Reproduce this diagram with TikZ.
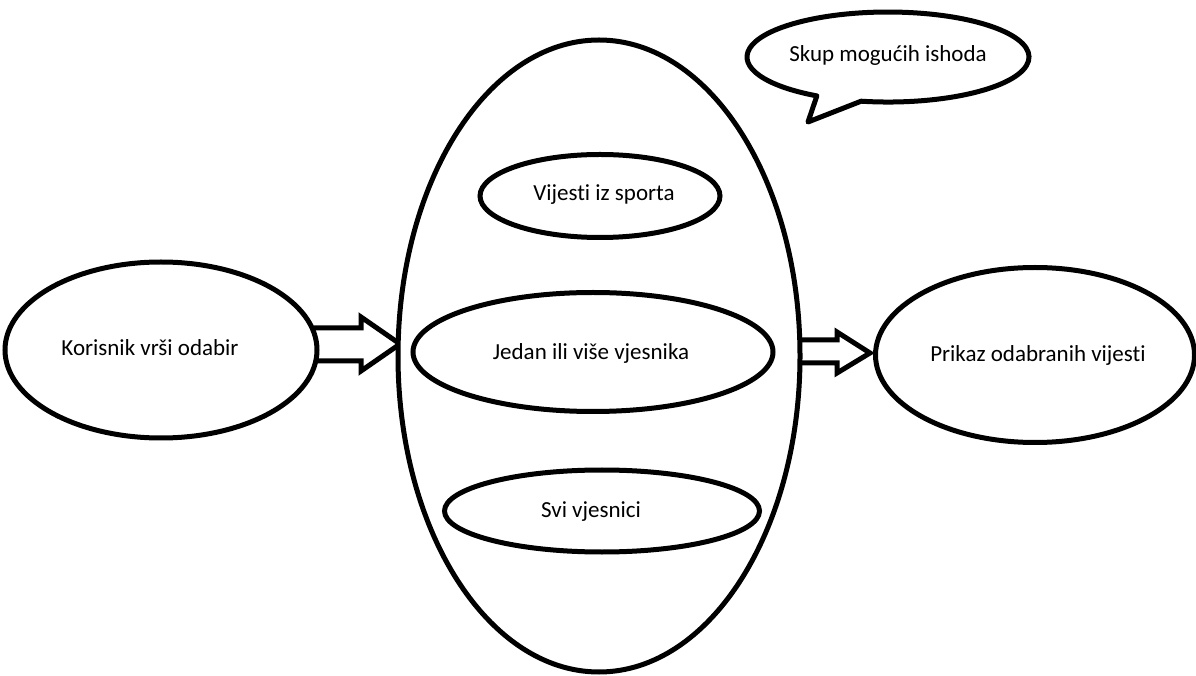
\documentclass[tikz,border=0pt]{standalone}
\usepackage{fontspec}
\setmainfont{Carlito}[Ligatures=NoCommon]
\usetikzlibrary{shapes.geometric,calc}
\tikzset{
  oval/.style={ellipse, draw=black, line width=5pt, fill=white, inner sep=0pt},
  lbl/.style={font=\fontsize{23}{27}\selectfont, text=black, inner sep=0pt},
  blockarrow/.style={draw=black, line width=5pt, line join=miter, fill=white},
}
\begin{document}
\begin{tikzpicture}[x=1pt,y=1pt]
\useasboundingbox (0,0) rectangle (1196,675);
% block arrows (drawn first, ellipses cover their ends)
\coordinate (la) at (314,331);
\draw[blockarrow] (la) ++(0,16) -- ++(47,0) -- ++(0,11) -- (400,331) -- (361,304) -- ++(0,10) -- (314,314);
\coordinate (ra) at (797,323);
\draw[blockarrow] (ra) ++(0,12) -- ++(40,0) -- ++(0,8) -- (870,322) -- (837,302) -- ++(0,10) -- (797,312);
% outer nodes
\node[oval, minimum width=312pt, minimum height=176pt] (user) at (161,325) {};
\node[lbl] (usert) at (150,327) {Korisnik vrši odabir};
\node[oval, minimum width=402pt, minimum height=632pt] (set) at (599,319) {};
\node[oval, minimum width=240pt, minimum height=83pt] (sport) at (600,479) {};
\node[lbl] (sportt) at (604,480) {Vijesti iz sporta};
\node[oval, minimum width=360pt, minimum height=119pt] (one) at (593,323) {};
\node[lbl] (onet) at (591,322) {Jedan ili više vjesnika};
\node[oval, minimum width=315pt, minimum height=82pt] (all) at (602,164) {};
\node[lbl] (allt) at (591,163) {Svi vjesnici};
\node[oval, minimum width=319pt, minimum height=175pt] (show) at (1035,320) {};
\node[lbl] (showt) at (1038,320) {Prikaz odabranih vijesti};
% speech bubble
\coordinate (bub) at (861.1,573.8);
\draw[line width=5pt, line join=round, fill=white] (bub) arc[start angle=259, end angle=599.7, x radius=141pt, y radius=45pt] -- (808,553) -- cycle;
\node[lbl] (bubt) at (888,620) {Skup mogućih ishoda};
\end{tikzpicture}
\end{document}
